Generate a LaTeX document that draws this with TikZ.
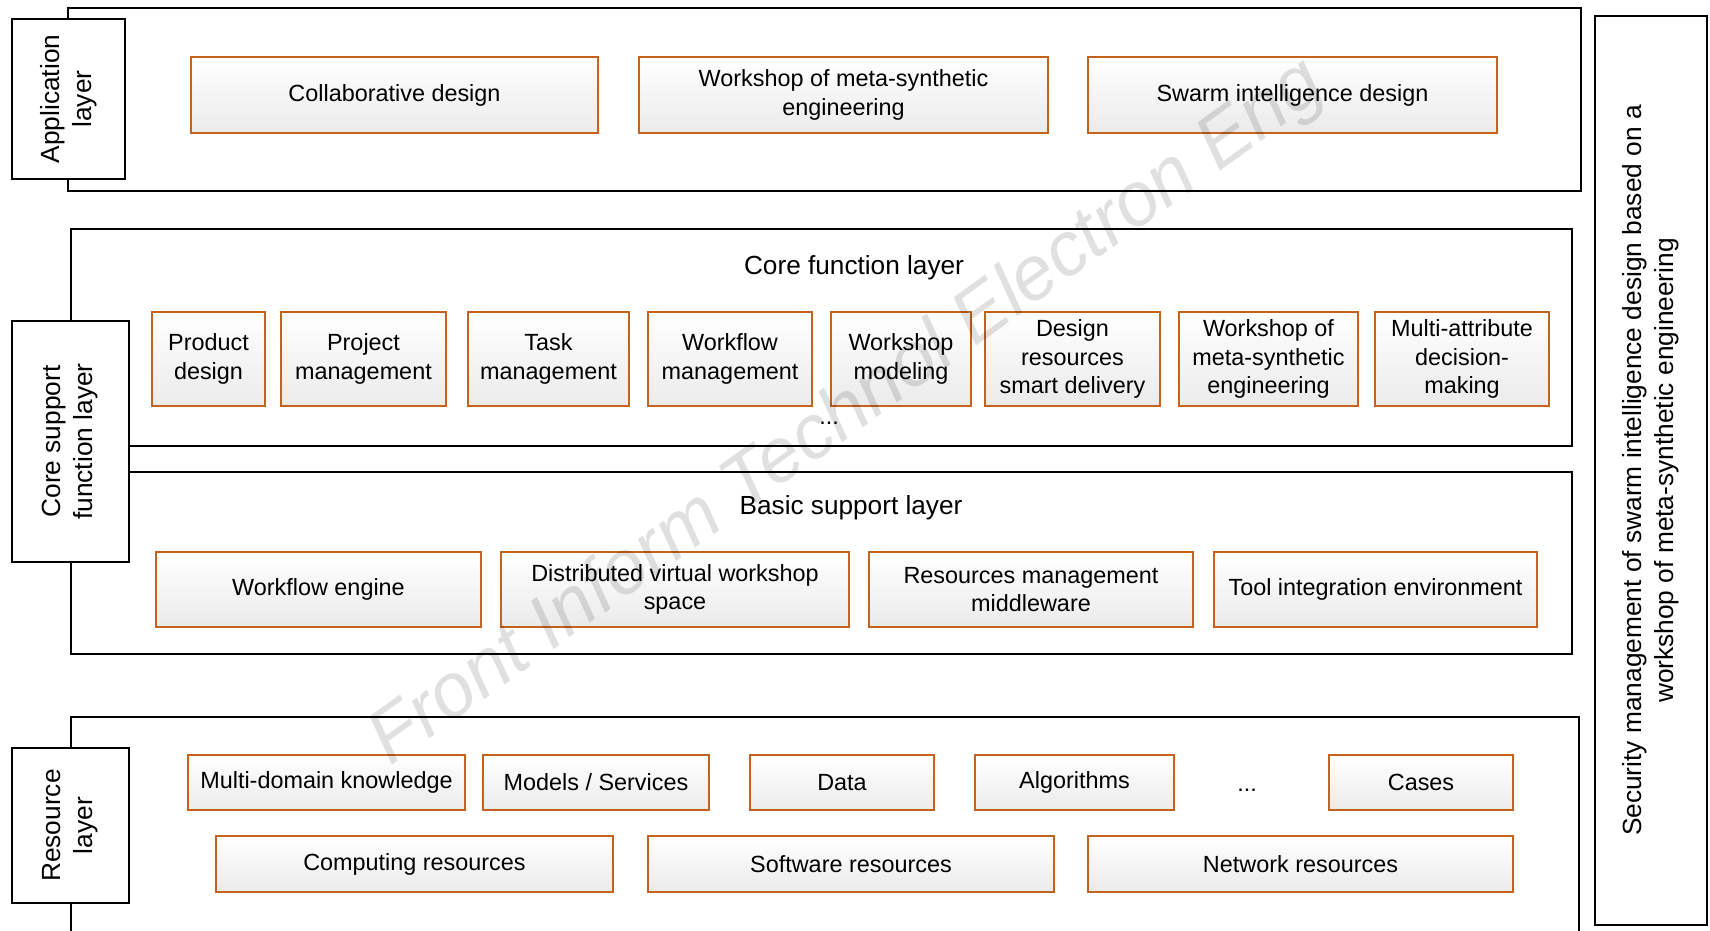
\documentclass[tikz,border=0pt]{standalone}
\usepackage{fontspec}
\setmainfont{Liberation Sans}
\usetikzlibrary{positioning}
\definecolor{boxorange}{RGB}{196,98,30}
\tikzstyle{layer} = [rectangle, draw=black, line width=2.6pt]
\tikzstyle{tag} = [rectangle, draw=black, fill=white, line width=2.6pt, rotate=90, align=center, font=\fontsize{26.3}{32}\selectfont]
\tikzstyle{unitbox} = [rectangle, draw=boxorange, line width=2pt, top color=white, bottom color=gray!16, align=center, inner sep=2pt, font=\fontsize{23.4}{28.4}\selectfont]
\tikzstyle{title} = [font=\fontsize{26.2}{31}\selectfont]
\tikzstyle{more} = [inner sep=1pt, font=\fontsize{23.4}{28.4}\selectfont]

\begin{document}
\begin{tikzpicture}[x=1pt, y=-1pt]
    \useasboundingbox (0,0) rectangle (1710,930);

    % Application layer
    \node (appframe) [layer, minimum width=1513pt, minimum height=183pt] at (824.5,99.5) {};
    \node (applabel) [tag, minimum width=160pt, minimum height=113pt] at (68.5,99) {Application\\layer};
    \node (collab) [unitbox, minimum width=407pt, minimum height=76pt] at (394.5,95) {Collaborative design};
    \node (appworkshop) [unitbox, minimum width=409pt, minimum height=76pt] at (843.5,95) {Workshop of meta-synthetic\\engineering};
    \node (swarm) [unitbox, minimum width=409pt, minimum height=76pt] at (1292.5,95) {Swarm intelligence design};

    % Core support function layer
    \node (coreframe) [layer, minimum width=1501pt, minimum height=217pt] at (821.5,337.5) {};
    \node (basicframe) [layer, minimum width=1501pt, minimum height=182pt] at (821.5,563) {};
    \node (corelabel) [tag, minimum width=241pt, minimum height=117pt] at (70.5,441.5) {Core support\\function layer};

    \node (coretitle) [title] at (854,268) {Core function layer};
    \node (product) [unitbox, minimum width=113pt, minimum height=94pt] at (208.5,359) {Product\\design};
    \node (project) [unitbox, minimum width=165pt, minimum height=94pt] at (363.5,359) {Project\\management};
    \node (task) [unitbox, minimum width=161pt, minimum height=94pt] at (548.5,359) {Task\\management};
    \node (workflow) [unitbox, minimum width=164pt, minimum height=94pt] at (730,359) {Workflow\\management};
    \node (modeling) [unitbox, minimum width=140pt, minimum height=94pt] at (901,359) {Workshop\\modeling};
    \node (delivery) [unitbox, minimum width=175pt, minimum height=94pt] at (1072.5,359) {Design\\resources\\smart delivery};
    \node (coreworkshop) [unitbox, minimum width=179pt, minimum height=94pt] at (1268.5,359) {Workshop of\\meta-synthetic\\engineering};
    \node (decision) [unitbox, minimum width=174pt, minimum height=94pt] at (1462,359) {Multi-attribute\\decision-\\making};
    \node (coredots) [more] at (829,423) {...};

    \node (basictitle) [title] at (851,508) {Basic support layer};
    \node (engine) [unitbox, minimum width=325pt, minimum height=75pt] at (318.5,589.5) {Workflow engine};
    \node (virtual) [unitbox, minimum width=348pt, minimum height=75pt] at (675,589.5) {Distributed virtual workshop\\space};
    \node (middleware) [unitbox, minimum width=324pt, minimum height=75pt] at (1031,589.5) {Resources management\\middleware};
    \node (toolenv) [unitbox, minimum width=323pt, minimum height=75pt] at (1375.5,589.5) {Tool integration environment};

    % Resource layer
    \node (resframe) [layer, minimum width=1508pt, minimum height=240pt] at (825,837) {};
    \node (reslabel) [tag, minimum width=155pt, minimum height=117pt] at (70.5,825.5) {Resource\\layer};
    \node (knowledge) [unitbox, minimum width=277pt, minimum height=55pt] at (326.5,782.5) {Multi-domain knowledge};
    \node (models) [unitbox, minimum width=226pt, minimum height=55pt] at (596,782.5) {Models / Services};
    \node (data) [unitbox, minimum width=184pt, minimum height=55pt] at (842,782.5) {Data};
    \node (algorithms) [unitbox, minimum width=199pt, minimum height=55pt] at (1074.5,782.5) {Algorithms};
    \node (resdots) [more] at (1247,790) {...};
    \node (cases) [unitbox, minimum width=184pt, minimum height=55pt] at (1421,782.5) {Cases};
    \node (computing) [unitbox, minimum width=397pt, minimum height=56pt] at (414.5,864) {Computing resources};
    \node (software) [unitbox, minimum width=406pt, minimum height=56pt] at (851,864) {Software resources};
    \node (network) [unitbox, minimum width=425pt, minimum height=56pt] at (1300.5,864) {Network resources};

    % Security management
    \node (security) [tag, minimum width=909pt, minimum height=112pt] at (1651,470.5) {Security management of swarm intelligence design based on a\\workshop of meta-synthetic engineering};

    % Watermark
    \node (watermark) [rotate=35.7, text=black, text opacity=0.12, font=\fontsize{76}{80}\selectfont\itshape] at (848,414) {Front Inform Technol Electron Eng};

\end{tikzpicture}
\end{document}
